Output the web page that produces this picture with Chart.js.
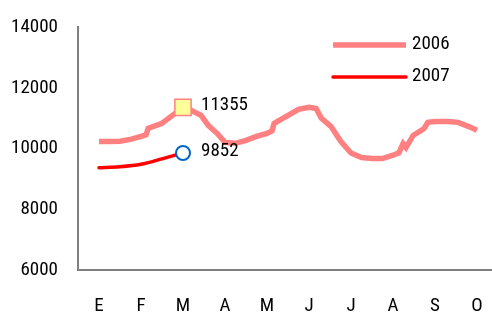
<!DOCTYPE html>
<html><head><meta charset="utf-8">
<script src="https://cdn.jsdelivr.net/npm/chart.js@4"></script>
<style>html,body{margin:0;padding:0;background:#fff}#wrap{width:492px;height:315px;position:relative}</style>
</head><body><div id="wrap"><canvas id="c" width="492" height="315"></canvas></div>
<script>
const monthLabels = ['E','F','M','A','M','J','J','A','S','O'];
const yTicks = [6000, 8000, 10000, 12000, 14000];
const seriesNames = ['2006', '2007'];
// 2006: positions in months (0 = E) and values
const x2006 = [0, 0.25, 0.5, 0.75, 1.0, 1.12, 1.17, 1.5, 1.75, 2.0, 2.19, 2.43, 2.6, 2.81, 3.0, 3.25, 3.5, 3.75, 4.0, 4.12, 4.17, 4.5, 4.75, 5.0, 5.17, 5.29, 5.52, 5.76, 6.0, 6.25, 6.5, 6.75, 7.0, 7.14, 7.24, 7.31, 7.48, 7.74, 7.83, 8.0, 8.31, 8.55, 8.79, 9.0];
const v2006 = [10230, 10230, 10240, 10300, 10400, 10450, 10660, 10830, 11090, 11355, 11260, 11090, 10760, 10500, 10200, 10170, 10270, 10400, 10500, 10580, 10830, 11090, 11290, 11355, 11320, 11000, 10730, 10230, 9850, 9700, 9670, 9670, 9780, 9860, 10160, 10030, 10430, 10660, 10860, 10890, 10890, 10860, 10730, 10600];
const x2007 = [0, 0.5, 1.0, 1.5, 2.0];
const v2007 = [9370, 9400, 9480, 9660, 9852];
const markedMonth = 2; // M

const FONT = "'Roboto Condensed', 'Liberation Sans', Arial, sans-serif";

const labelPlugin = {
  id: 'labels',
  afterDatasetsDraw(chart) {
    const ctx = chart.ctx;
    ctx.save();
    ctx.font = '19px ' + FONT;
    ctx.fillStyle = '#000';
    ctx.textBaseline = 'middle';
    ctx.textAlign = 'left';
    chart.data.datasets.forEach((ds, di) => {
      const meta = chart.getDatasetMeta(di);
      ds.data.forEach((p, i) => {
        if (p.x === markedMonth) {
          const el = meta.data[i];
          ctx.fillText(String(p.y), el.x + 18, el.y - 2);
        }
      });
    });
    // legend
    const items = [
      {ds: chart.data.datasets[0], y: 45},
      {ds: chart.data.datasets[1], y: 77}
    ];
    items.forEach((it, k) => {
      ctx.strokeStyle = it.ds.borderColor;
      ctx.lineWidth = it.ds.borderWidth;
      ctx.lineCap = k === 0 ? 'butt' : 'round';
      ctx.beginPath();
      ctx.moveTo(333, it.y);
      ctx.lineTo(406, it.y);
      ctx.stroke();
      ctx.fillText(it.ds.label, 412, it.y - 1);
    });
    ctx.restore();
  }
};

new Chart(document.getElementById('c'), {
  type: 'line',
  data: {
    datasets: [
      {
        label: seriesNames[0],
        data: x2006.map((x, i) => ({x: x, y: v2006[i]})),
        borderColor: '#ff8080',
        borderWidth: 5.5,
        tension: 0,
        pointStyle: 'rect',
        pointRadius: c => (c.raw && c.raw.x === markedMonth) ? 11.5 : 0,
        pointBackgroundColor: '#ffff99',
        pointBorderColor: '#ff8080',
        pointBorderWidth: 1.5,
        order: 1
      },
      {
        label: seriesNames[1],
        data: x2007.map((x, i) => ({x: x, y: v2007[i]})),
        borderColor: '#ff0000',
        borderWidth: 3.5,
        tension: 0.3,
        borderCapStyle: 'round',
        pointStyle: 'circle',
        pointRadius: c => (c.raw && c.raw.x === markedMonth) ? 7 : 0,
        pointBackgroundColor: '#ffffff',
        pointBorderColor: '#0066cc',
        pointBorderWidth: 2,
        order: 0
      }
    ]
  },
  options: {
    responsive: false,
    animation: false,
    devicePixelRatio: 1,
    layout: {autoPadding: false, padding: {top: 27, right: 0, left: 0, bottom: 0}},
    plugins: {legend: {display: false}, tooltip: {enabled: false}},
    scales: {
      x: {
        type: 'linear',
        min: -0.5,
        max: -0.5 + (492 - 78) / 42,
        afterBuildTicks: s => { s.ticks = monthLabels.map((_, i) => ({value: i})); },
        afterFit: s => { s.height = 45; s.paddingLeft = 0; s.paddingRight = 0; },
        grid: {display: false, drawTicks: false},
        border: {display: true, color: '#808080', width: 2},
        ticks: {
          callback: v => monthLabels[v],
          font: {family: FONT, size: 19},
          color: '#000',
          padding: 25,
          maxRotation: 0,
          autoSkip: false
        }
      },
      y: {
        min: 6000,
        max: 14000,
        afterBuildTicks: s => { s.ticks = yTicks.map(v => ({value: v})); },
        afterFit: s => { s.width = 78; s.paddingTop = 0; s.paddingBottom = 0; },
        grid: {display: false, drawTicks: false},
        border: {display: true, color: '#808080', width: 2},
        ticks: {
          callback: v => String(v),
          font: {family: FONT, size: 19},
          color: '#000',
          padding: 20
        }
      }
    }
  },
  plugins: [labelPlugin]
});
</script>
</body></html>
